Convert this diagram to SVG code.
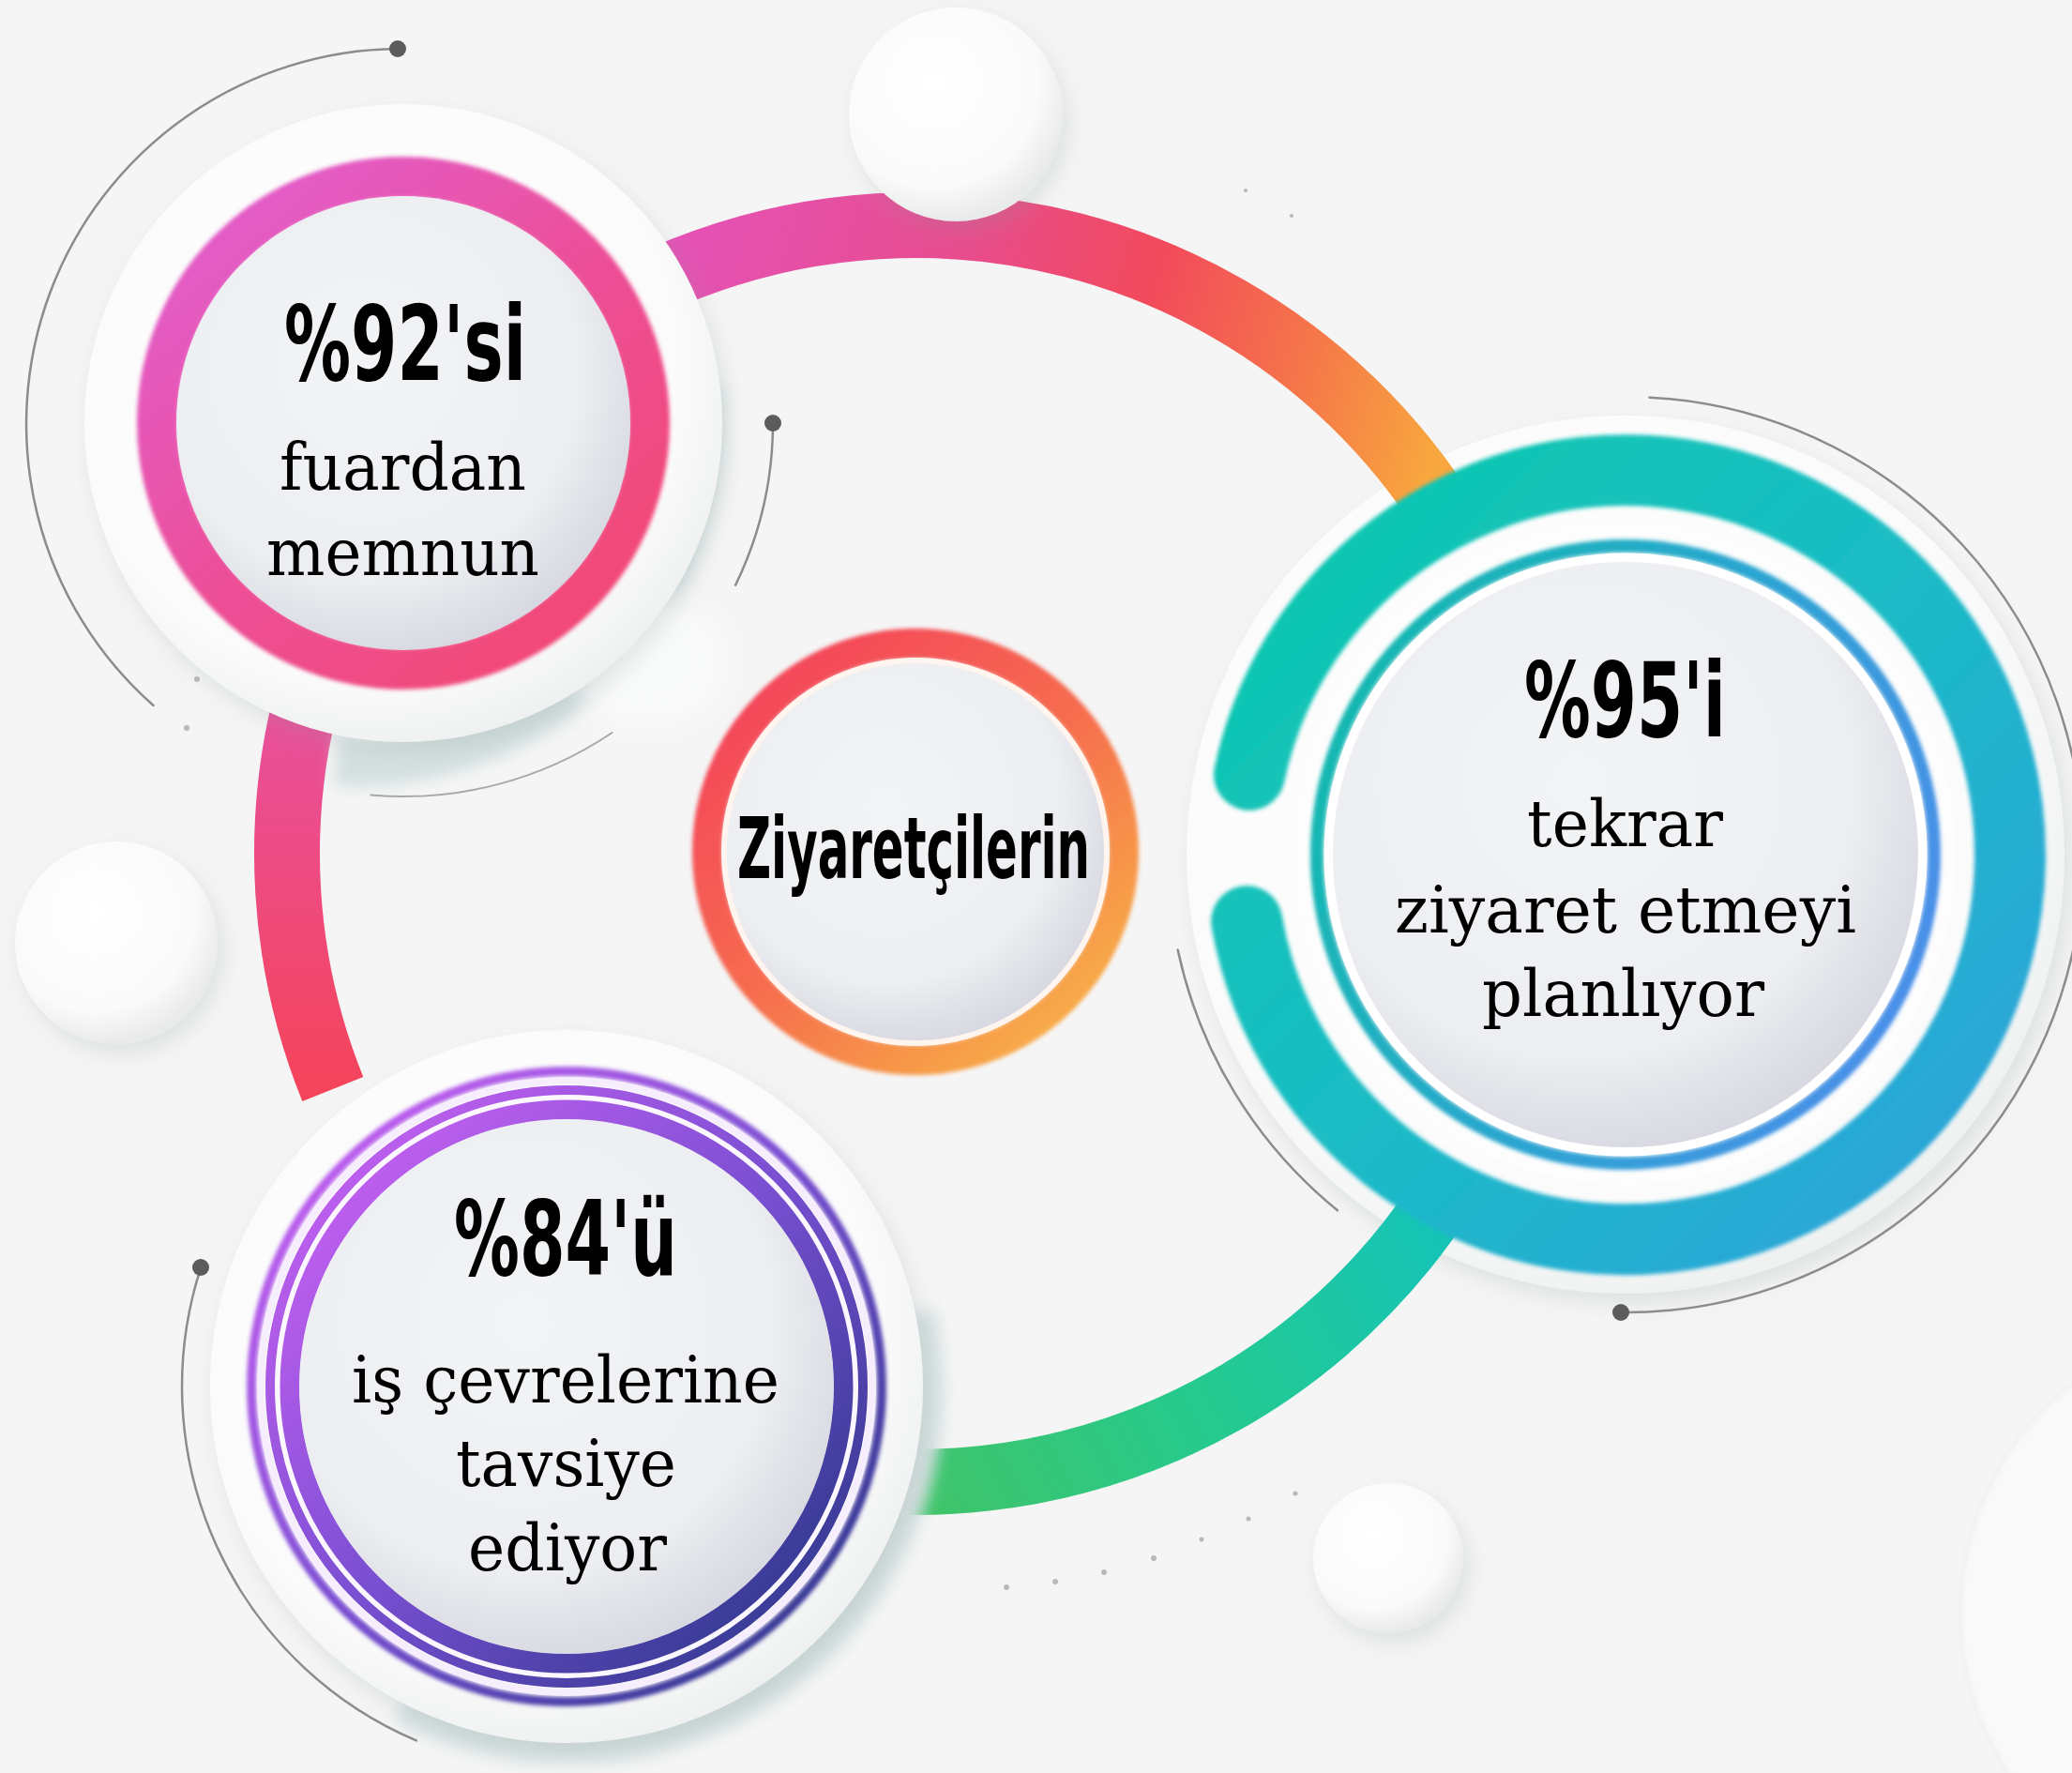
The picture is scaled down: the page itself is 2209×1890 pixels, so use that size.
<svg xmlns="http://www.w3.org/2000/svg" width="2209" height="1890" viewBox="0 0 2209 1890">
<defs>
  <style>
    .garc{fill:none;stroke:#8c8c8c;stroke-width:2.5;stroke-linecap:round}
    .garc2{fill:none;stroke:#a8a8a8;stroke-width:2;stroke-linecap:round}
    .dot{fill:#5c5c5c}
    .sdot{fill:#b9b9b9}
    .num{font-family:"DejaVu Sans Condensed","DejaVu Sans","Liberation Sans",sans-serif;font-weight:bold;fill:#000}
    .txt{font-family:"DejaVu Serif","Liberation Serif",serif;font-size:70px;fill:#000}
    .halo{fill:url(#haloG);filter:url(#shadow)}
    .disk{fill:url(#diskG)}
    .band{fill:none;stroke-width:70;stroke-linecap:butt}
  </style>
  <filter id="shadow" x="-30%" y="-30%" width="160%" height="160%">
    <feDropShadow dx="6" dy="10" stdDeviation="12" flood-color="#8a9a9a" flood-opacity="0.22"/>
  </filter>
  <filter id="soft" x="-20%" y="-20%" width="140%" height="140%">
    <feGaussianBlur stdDeviation="2"/>
  </filter>
  <filter id="blur8" x="-30%" y="-30%" width="160%" height="160%">
    <feGaussianBlur stdDeviation="8"/>
  </filter>
  <filter id="blur14" x="-50%" y="-50%" width="200%" height="200%">
    <feGaussianBlur stdDeviation="14"/>
  </filter>
  <radialGradient id="haloG" cx="45%" cy="42%" r="60%">
    <stop offset="0" stop-color="#ffffff"/>
    <stop offset="0.8" stop-color="#fbfbfb"/>
    <stop offset="1" stop-color="#eef0f0"/>
  </radialGradient>
  <radialGradient id="diskG" cx="42%" cy="38%" r="65%">
    <stop offset="0" stop-color="#f3f4f6"/>
    <stop offset="0.72" stop-color="#eceef1"/>
    <stop offset="1" stop-color="#d6d7e0"/>
  </radialGradient>
  <radialGradient id="ballG" cx="40%" cy="35%" r="65%">
    <stop offset="0" stop-color="#ffffff"/>
    <stop offset="0.75" stop-color="#fafafa"/>
    <stop offset="1" stop-color="#e9eaea"/>
  </radialGradient>
  <linearGradient id="topArcG" gradientUnits="userSpaceOnUse" x1="700" y1="280" x2="1520" y2="520">
    <stop offset="0" stop-color="#e452b8"/>
    <stop offset="0.37" stop-color="#e84c8c"/>
    <stop offset="0.6" stop-color="#f24a5c"/>
    <stop offset="0.8" stop-color="#f5734a"/>
    <stop offset="1" stop-color="#f8a73e"/>
  </linearGradient>
  <linearGradient id="leftBarG" gradientUnits="userSpaceOnUse" x1="0" y1="760" x2="0" y2="1170">
    <stop offset="0" stop-color="#e8509c"/>
    <stop offset="1" stop-color="#f5445a"/>
  </linearGradient>
  <linearGradient id="greenG" gradientUnits="userSpaceOnUse" x1="1520" y1="1300" x2="980" y2="1580">
    <stop offset="0" stop-color="#16c4b6"/>
    <stop offset="0.5" stop-color="#25ca8e"/>
    <stop offset="1" stop-color="#3fc46a"/>
  </linearGradient>
  <linearGradient id="pinkRingG" x1="0.15" y1="0.1" x2="0.85" y2="0.9">
    <stop offset="0" stop-color="#e35cc6"/>
    <stop offset="0.5" stop-color="#ec4f98"/>
    <stop offset="1" stop-color="#f24a78"/>
  </linearGradient>
  <linearGradient id="orangeRingG" x1="0.15" y1="0.1" x2="0.85" y2="0.9">
    <stop offset="0" stop-color="#f4485a"/>
    <stop offset="0.5" stop-color="#f66c4e"/>
    <stop offset="1" stop-color="#f8aa48"/>
  </linearGradient>
  <linearGradient id="purpleG" x1="0.1" y1="0.1" x2="0.9" y2="0.9">
    <stop offset="0" stop-color="#c25ff0"/>
    <stop offset="0.5" stop-color="#7a4fd2"/>
    <stop offset="1" stop-color="#343a92"/>
  </linearGradient>
  <linearGradient id="tealG" gradientUnits="userSpaceOnUse" x1="1330" y1="500" x2="2150" y2="1300">
    <stop offset="0" stop-color="#0cc9ac"/>
    <stop offset="0.5" stop-color="#1bbcc6"/>
    <stop offset="1" stop-color="#2fa1dc"/>
  </linearGradient>
  <linearGradient id="tealThinG" x1="0" y1="0.3" x2="1" y2="0.7">
    <stop offset="0" stop-color="#15b9b0"/>
    <stop offset="0.5" stop-color="#2aa6d0"/>
    <stop offset="1" stop-color="#4c8eea"/>
  </linearGradient>
</defs>

<rect x="0" y="0" width="2209" height="1890" fill="#f5f5f5"/>

<g id="decor-back">
  <circle cx="2400" cy="1720" r="310" fill="#f9f9f9" stroke="#eeeeee" stroke-width="3" filter="url(#soft)"/>
  <circle cx="124" cy="1005" r="108" fill="url(#ballG)" filter="url(#shadow)"/>
  <circle cx="1480" cy="1661" r="80" fill="url(#ballG)" filter="url(#shadow)"/>
  <circle class="sdot" cx="1073" cy="1692" r="3"/>
  <circle class="sdot" cx="1125" cy="1686" r="3"/>
  <circle class="sdot" cx="1177" cy="1676" r="3"/>
  <circle class="sdot" cx="1230" cy="1661" r="3"/>
  <circle class="sdot" cx="1281" cy="1641" r="2.5"/>
  <circle class="sdot" cx="1331" cy="1619" r="2.5"/>
  <circle class="sdot" cx="1381" cy="1592" r="2.5"/>
  <circle class="sdot" cx="210" cy="724" r="3"/>
  <circle class="sdot" cx="199" cy="776" r="3"/>
  <circle class="sdot" cx="1328" cy="203" r="2"/>
  <circle class="sdot" cx="1377" cy="230" r="2"/>
</g>

<g id="node-95-halo">
  <circle class="halo" cx="1733" cy="911" r="468"/>
  <path class="garc" d="M 1758.5 423.7 A 488 488 0 0 1 1727.9 1399"/>
  <circle class="dot" cx="1728" cy="1399" r="9"/>
  <path class="garc" d="M 1255.7 1012.5 A 488 488 0 0 0 1425.9 1290.2"/>
</g>

<g id="connectors">
  <path class="band" stroke="url(#topArcG)" d="M 395.8 575 A 670 670 0 0 1 1537.9 545.1"/>
  <path class="band" stroke="url(#leftBarG)" d="M 328.8 736.6 A 670 670 0 0 0 354.8 1161"/>
  <path class="band" stroke="url(#greenG)" d="M 1537.9 1274.9 A 670 670 0 0 1 859.7 1569.8"/>
</g>

<g id="decor-front">
  <circle cx="1019" cy="122" r="114" fill="url(#ballG)" filter="url(#shadow)"/>
</g>

<g id="node-92">
  <path d="M 744 412 A 368 368 0 0 1 358 812" fill="none" stroke="#d4e0e0" stroke-width="52" filter="url(#blur8)"/>
  <ellipse cx="690" cy="705" rx="85" ry="70" fill="#f9fafa" filter="url(#blur14)"/>
  <circle class="halo" cx="430" cy="451" r="340"/>
  <circle cx="430" cy="451" r="262" fill="none" stroke="url(#pinkRingG)" stroke-width="44" filter="url(#soft)"/>
  <circle class="disk" cx="430" cy="451" r="242"/>
  <path class="garc" d="M 424 52 A 400 400 0 0 0 163.5 752"/>
  <circle class="dot" cx="424" cy="52" r="9"/>
  <path class="garc" d="M 824 451 A 394 394 0 0 1 784.1 623.7"/>
  <circle class="dot" cx="824" cy="451" r="9"/>
  <path class="garc2" d="M 395.3 847.5 A 398 398 0 0 0 652.6 781"/>
  <text class="num" x="303" y="405" font-size="111" textLength="258" lengthAdjust="spacingAndGlyphs">%92'si</text>
  <text class="txt" x="298" y="522" textLength="263" lengthAdjust="spacingAndGlyphs">fuardan</text>
  <text class="txt" x="284" y="613" textLength="291" lengthAdjust="spacingAndGlyphs">memnun</text>
</g>

<g id="node-ziyaretcilerin">
  <circle cx="976" cy="908" r="222" fill="none" stroke="url(#orangeRingG)" stroke-width="32" filter="url(#soft)"/>
  <circle cx="976" cy="908" r="204" fill="none" stroke="#fff4ee" stroke-width="6"/>
  <circle class="disk" cx="976" cy="908" r="201"/>
  <text class="num" x="786" y="936" font-size="90" textLength="376" lengthAdjust="spacingAndGlyphs">Ziyaretçilerin</text>
</g>

<g id="node-84">
  <path d="M 975 1400 A 378 378 0 0 1 430 1815" fill="none" stroke="#d6e1e1" stroke-width="44" filter="url(#blur8)"/>
  <circle class="halo" cx="604" cy="1478" r="380"/>
  <circle cx="604" cy="1478" r="336" fill="none" stroke="url(#purpleG)" stroke-width="10" filter="url(#soft)"/>
  <circle cx="604" cy="1478" r="326" fill="none" stroke="#f6eefc" stroke-width="8"/>
  <circle cx="604" cy="1478" r="316" fill="none" stroke="url(#purpleG)" stroke-width="10"/>
  <circle cx="604" cy="1478" r="307.5" fill="none" stroke="#fbf6ff" stroke-width="5"/>
  <circle cx="604" cy="1478" r="295" fill="none" stroke="url(#purpleG)" stroke-width="21"/>
  <circle class="disk" cx="604" cy="1478" r="285"/>
  <path class="garc" d="M 214.1 1351.3 A 410 410 0 0 0 443.8 1855.4"/>
  <circle class="dot" cx="214" cy="1351" r="9"/>
  <text class="num" x="484" y="1359" font-size="110" textLength="238" lengthAdjust="spacingAndGlyphs">%84'ü</text>
  <text class="txt" x="375" y="1495" textLength="456" lengthAdjust="spacingAndGlyphs">iş çevrelerine</text>
  <text class="txt" x="486" y="1584" textLength="235" lengthAdjust="spacingAndGlyphs">tavsiye</text>
  <text class="txt" x="499" y="1674" textLength="212" lengthAdjust="spacingAndGlyphs">ediyor</text>
</g>

<g id="node-95">
  <path d="M 1332 825.8 A 410 410 0 1 1 1329.2 982.2" fill="none" stroke="url(#tealG)" stroke-width="76" stroke-linecap="round" filter="url(#soft)"/>
  <circle cx="1733" cy="911" r="352" fill="#fdfdfd"/>
  <circle cx="1733" cy="911" r="329" fill="none" stroke="url(#tealThinG)" stroke-width="14" filter="url(#soft)"/>
  <circle cx="1733" cy="911" r="317" fill="none" stroke="#ffffff" stroke-width="9"/>
  <circle class="disk" cx="1733" cy="911" r="312"/>
  <text class="num" x="1625" y="785" font-size="110" textLength="215" lengthAdjust="spacingAndGlyphs">%95'i</text>
  <text class="txt" x="1628" y="902" textLength="209" lengthAdjust="spacingAndGlyphs">tekrar</text>
  <text class="txt" x="1487" y="994" textLength="492" lengthAdjust="spacingAndGlyphs">ziyaret etmeyi</text>
  <text class="txt" x="1580" y="1083" textLength="301" lengthAdjust="spacingAndGlyphs">planlıyor</text>
</g>
</svg>
